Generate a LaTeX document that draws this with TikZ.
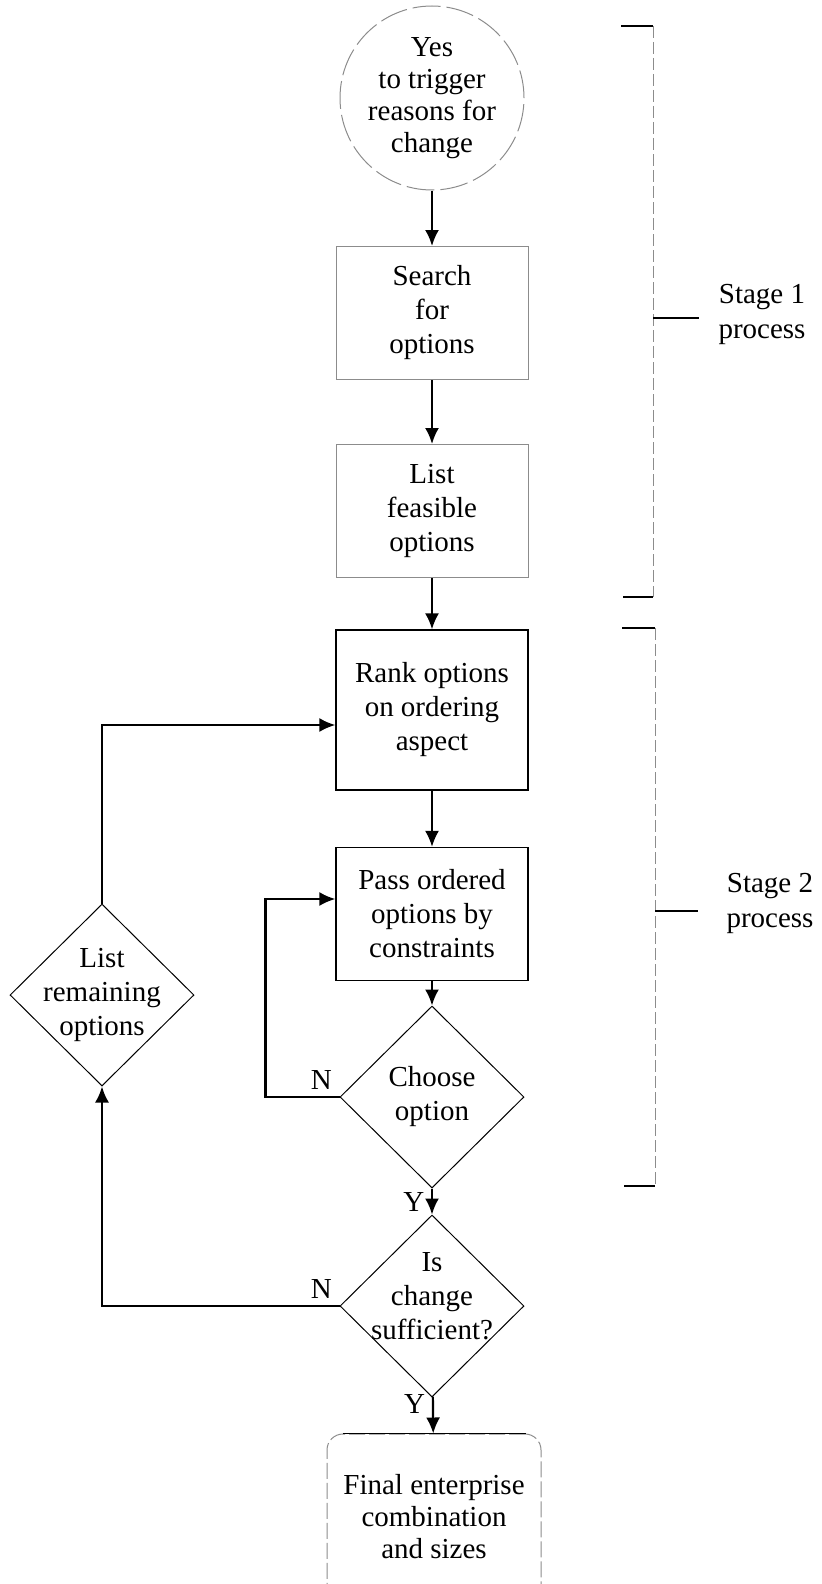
\documentclass[tikz,border=0pt]{standalone}
\usepackage{fontspec}
\setmainfont{Liberation Serif}
\usetikzlibrary{shapes.geometric,arrows.meta}

\begin{document}
\begin{tikzpicture}[
    x=0.5pt, y=-0.5pt,
    txt/.style={%
      align=center,
      font=\fontsize{14.5}{17}\selectfont,
    },
    faint/.style={%
      draw=black!45,
      line width=0.5pt,
    },
    box/.style={%
      draw,
      rectangle,
      txt,
      line width=0.6pt,
      minimum width=96pt,
      minimum height=66.5pt,
    },
    start/.style={%
      circle,
      faint,
      dash pattern=on 14pt off 3pt,
      minimum size=92pt,
      inner sep=0pt,
    },
    decision/.style={%
      draw,
      diamond,
      line width=0.5pt,
      minimum width=92pt,
      minimum height=91pt,
      inner sep=0pt,
    },
    flow/.style={%
      line width=1.1pt,
      -{Latex[length=8pt,width=7pt]},
    },
  ]
    \useasboundingbox (0,0) rectangle (821,1584);
    \node [start, label={[txt, font=\fontsize{14.5}{16}\selectfont]center:Yes\\to trigger\\reasons for\\change}] (yes) at (432,98) {};
    \path (yes) ++(0,215) node [box, faint] (search) {Search\\for\\options};
    \path (search) ++(0,198) node [box, faint] (feasible) {List\\feasible\\options};
    \path (feasible) ++(0,199) node [box, minimum height=80pt] (rank) {Rank options\\on ordering\\aspect};
    \path (rank) ++(0,204) node [box] (pass) {Pass ordered\\options by\\constraints};
    \path (pass) ++(0,183) node [decision, label={[txt]center:Choose\\option}] (choose) {};
    \path (choose) ++(0,209) node [decision, label={[txt,yshift=5pt]center:Is\\change\\sufficient?}] (change) {};
    \path (change) ++(2,211) node [box, faint, dash pattern=on 8pt off 2pt, rounded corners=8pt, minimum width=107pt, minimum height=83pt, font=\fontsize{14.5}{16}\selectfont] (final) {Final enterprise\\combination\\and sizes};
    \node [decision, label={[txt]center:List\\remaining\\options}] (remaining) at (102,995) {};
    % solid top edge of the last box
    \draw [line width=0.6pt] ([xshift=8pt]final.north west) -- ([xshift=-8pt]final.north east);
    % main column
    \draw [flow] (yes) -- (search);
    \draw [flow] (search) -- (feasible);
    \draw [flow] (feasible) -- (rank);
    \draw [flow] (rank) -- (pass);
    \draw [flow] (pass) -- (choose);
    \draw [flow] (choose) -- node [txt, left] {Y} (change);
    \draw [flow] (change) -- node [txt, left, pos=0.2] {Y} (final);
    % loops back
    \draw [flow] (choose.west) node [txt, above left] {N} -- ++(-74,0) |- ([yshift=7.5pt]pass.west);
    \draw [flow] (change.west) node [txt, above left] {N} -| (remaining.south);
    \draw [flow] (remaining.north) |- ([yshift=-7.5pt]rank.west);
    % stage brackets
    \draw [faint, dash pattern=on 6pt off 2pt] (653,26) -- (653,597);
    \draw [line width=0.6pt] (621,26) -- (653,26) (623,597) -- (653,597) (653,318) -- (699,318);
    \node [txt, font=\fontsize{14.5}{17.5}\selectfont] (stage1) at (762,314) {Stage 1\\process};
    \draw [faint, dash pattern=on 6pt off 2pt] (655,628) -- (655,1186);
    \draw [line width=0.6pt] (622,628) -- (655,628) (624,1186) -- (655,1186) (655,911) -- (698,911);
    \node [txt, font=\fontsize{14.5}{17.5}\selectfont] (stage2) at (770,903) {Stage 2\\process};
\end{tikzpicture}
\end{document}
